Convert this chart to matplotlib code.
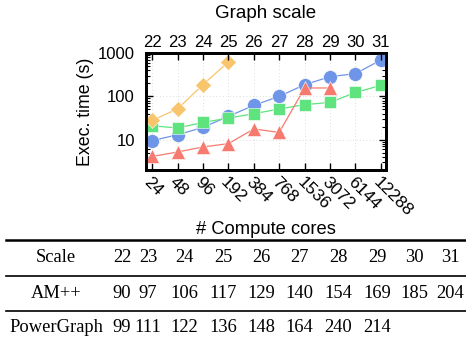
import numpy as np
import matplotlib.pyplot as plt
from matplotlib.lines import Line2D
from matplotlib.ticker import LogLocator, NullFormatter

# Chart data
scales = [22, 23, 24, 25, 26, 27, 28, 29, 30, 31]
cores = [24, 48, 96, 192, 384, 768, 1536, 3072, 6144, 12288]

blueTimes = [9.5, 13, 19.2, 34.5, 62, 100, 186, 284, 334, 690]
greenTimes = [21, 18.6, 25, 31.5, 39.8, 51, 64.5, 72.5, 123, 179]
redTimes = [4.1, 5.2, 6.8, 8.1, 17.7, 14.7, 156, 156]
orangeTimes = [27.9, 51.2, 186, 625]

# Table data
tableScale = ["22", "23", "24", "25", "26", "27", "28", "29", "30", "31"]
tableAM = ["90", "97", "106", "117", "129", "140", "154", "169", "185", "204"]
tablePG = ["99", "111", "122", "136", "148", "164", "240", "214"]


def main():
    plt.rcParams['font.family'] = ['Liberation Sans', 'DejaVu Sans']
    fig = plt.figure(figsize=(4.66, 3.45), dpi=100)
    ax = fig.add_axes([146 / 466, 1 - 170 / 345, 240 / 466, 117 / 345])

    x = np.arange(len(scales))
    ax.plot(x, blueTimes, color="#6f95e8", marker="o", ms=10, lw=0.9,
            markeredgecolor="white", markeredgewidth=0.4, zorder=3)
    ax.plot(x, greenTimes, color="#5fe37e", marker="s", ms=9, lw=0.9,
            markeredgecolor="white", markeredgewidth=0.4, zorder=4)
    ax.plot(x[:len(redTimes)], redTimes, color="#f67a6e", marker="^", ms=10, lw=0.9,
            markeredgecolor="white", markeredgewidth=0.4, zorder=5)
    ax.plot(x[:len(orangeTimes)], orangeTimes, color="#f8c56d", marker="D", ms=8, lw=0.9,
            markeredgecolor="white", markeredgewidth=0.4, zorder=6)

    ax.set_yscale("log")
    ax.set_ylim(2, 1000)
    ax.set_xlim(-0.24, 9.2)
    ax.set_yticks([10, 100, 1000])
    ax.set_yticklabels(["10", "100", "1000"], fontsize=12)
    ax.yaxis.set_minor_locator(LogLocator(base=10, subs=np.arange(2, 10)))
    ax.yaxis.set_minor_formatter(NullFormatter())

    ax.set_xticks(x)
    ax.set_xticklabels([str(c) for c in cores], fontsize=12.5, rotation=-45,
                       ha="left", va="top", rotation_mode="anchor")
    ax.tick_params(axis="both", which="major", direction="in", length=5, width=1,
                   top=True, right=True)
    ax.tick_params(axis="y", which="minor", direction="in", length=3, width=0.8,
                   right=True)
    ax.tick_params(axis="y", which="major", pad=8)
    ax.tick_params(axis="x", which="major", pad=3)

    ax.grid(True, which="major", linestyle=(0, (1, 3)), color="#d4d4d4", linewidth=0.6)
    for s in ax.spines.values():
        s.set_linewidth(2)

    top = ax.twiny()
    top.set_xlim(ax.get_xlim())
    top.set_xticks(x)
    top.set_xticklabels([str(s) for s in scales], fontsize=12)
    top.tick_params(axis="x", direction="in", length=5, width=1, pad=2)
    for s in top.spines.values():
        s.set_linewidth(2)

    ax.set_ylabel("Exec. time (s)", fontsize=12.8)
    ax.yaxis.label.set_va("center")
    ax.yaxis.set_label_coords(-0.25, 0.5)
    fig.text(266 / 466, 1 - 13 / 345, "Graph scale", ha="center", va="center", fontsize=13.5)
    fig.text(266 / 466, 1 - 229 / 345, "# Compute cores", ha="center", va="center", fontsize=13.2)

    # Table drawn below the chart
    W, H = 466, 345
    for yy, lw in [(240, 1.8), (276, 1.2), (311, 1.2)]:
        fig.add_artist(Line2D([6 / W, 1], [1 - yy / H, 1 - yy / H], color="black",
                              lw=lw, transform=fig.transFigure))
    colX = [122, 148, 184, 223, 261, 299, 338, 377, 414, 450]
    serif = ['Liberation Serif', 'DejaVu Serif']
    rows = [("Scale", tableScale, 258), ("AM++", tableAM, 294), ("PowerGraph", tablePG, 328)]
    for label, vals, yy in rows:
        fig.text(56 / W, 1 - yy / H, label, ha="center", va="center", fontsize=13.3, family=serif)
        for cx, v in zip(colX, vals):
            fig.text(cx / W, 1 - yy / H, v, ha="center", va="center", fontsize=13.3, family=serif)

    fig.savefig("out.png", dpi=100)


if __name__ == "__main__":
    main()
